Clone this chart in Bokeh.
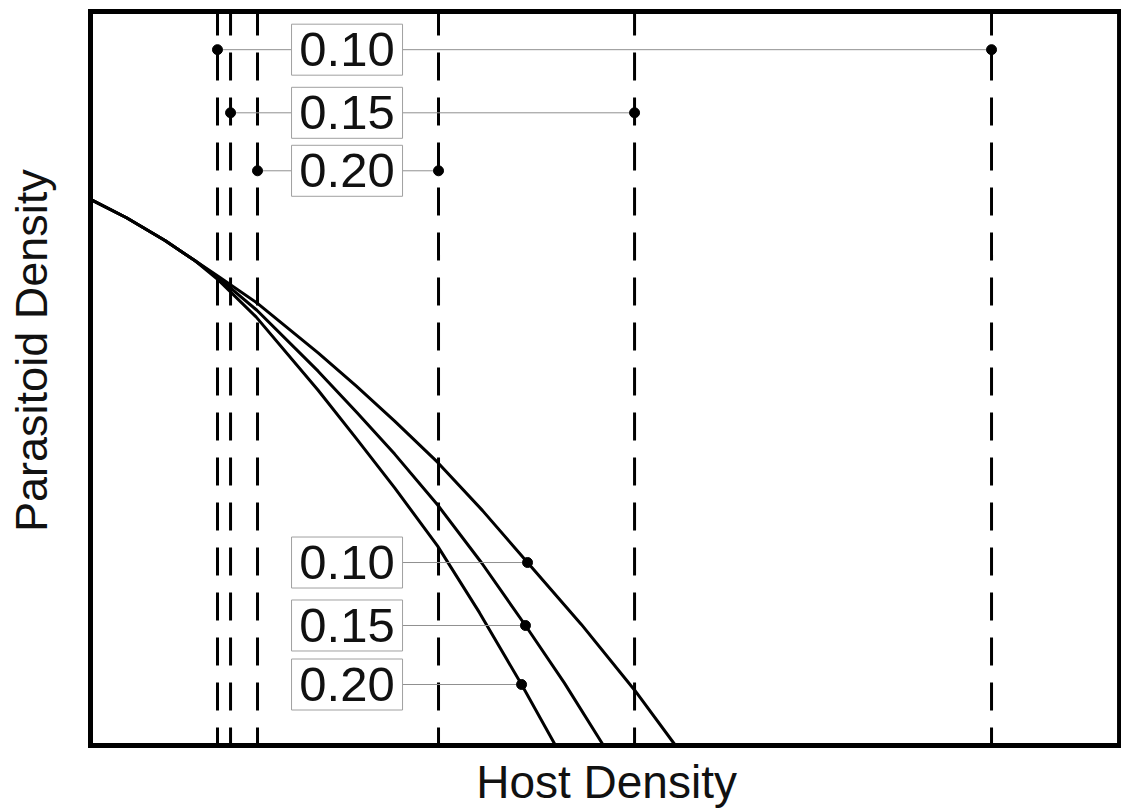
import math
from bokeh.plotting import figure
from bokeh.models import Range1d, Label, ColumnDataSource
from bokeh.core.properties import value
from bokeh.embed import file_html
from bokeh.resources import INLINE

# Parameter values shown in the boxed labels
params = ["0.10", "0.15", "0.20"]

# Equilibrium curves (host density vs parasitoid density), one per parameter value
curve_010_x = [0.0, 3.5, 7.24, 10.2, 12.44, 16.17, 22.12, 25.84, 29.56, 33.72, 38.1, 42.47, 47.7, 52.9, 56.85]
curve_010_y = [74.4, 71.9, 68.8, 66.0, 63.9, 60.3, 53.5, 48.95, 44.2, 38.6, 32.0, 24.93, 16.5, 7.5, 0.0]

curve_015_x = [0.0, 3.5, 7.24, 10.2, 12.44, 16.17, 22.12, 25.84, 29.56, 33.72, 38.0, 42.27, 46.06, 49.85]
curve_015_y = [74.4, 71.9, 68.8, 66.0, 63.7, 59.3, 51.0, 45.45, 39.7, 32.8, 24.9, 16.35, 8.5, 0.0]

curve_020_x = [0.0, 3.5, 7.24, 10.2, 12.44, 16.09, 22.12, 25.84, 29.56, 33.72, 37.8, 41.89, 45.19]
curve_020_y = [74.4, 71.9, 68.8, 66.0, 63.4, 58.4, 48.4, 41.8, 35.1, 27.2, 18.1, 8.31, 0.0]

# Marked points on each curve (bottom labels)
curve_mark_x = [42.47, 42.27, 41.89]
curve_mark_y = [24.93, 16.35, 8.31]

# Threshold host densities (dashed verticals), lower and upper bound per parameter
lower_x = [12.34, 13.61, 16.23]
upper_x = [87.56, 52.87, 33.82]
# Height at which each threshold pair is joined
pair_y = [94.8, 86.2, 78.3]

X_MAX, Y_MAX = 100.0, 100.0
FONT = "Liberation Sans"
INK = "#111111"

# The canvas is one frame; the axes box is drawn explicitly so the axis
# titles can sit in the margin around it.
p = figure(width=1121, height=812, output_backend="svg", toolbar_location=None,
           x_range=Range1d(-8.746, 100.19), y_range=Range1d(-9.128, 101.5),
           min_border=0)
p.axis.visible = False
p.grid.visible = False
p.outline_line_color = None
p.background_fill_color = "white"
p.border_fill_color = "white"

# dashed vertical threshold lines
vx = lower_x + upper_x
p.segment(x0=vx, y0=[Y_MAX] * len(vx), x1=vx, y1=[0] * len(vx),
          line_color="black", line_width=3, line_dash="28 17",
          line_dash_offset=4)

# curves
for cx, cy in [(curve_010_x, curve_010_y), (curve_015_x, curve_015_y),
               (curve_020_x, curve_020_y)]:
    p.line(cx, cy, line_color="black", line_width=3, line_join="round")

BOX_X = 24.93  # centre of the label boxes in host-density units

# top row: connectors between threshold pairs
p.segment(x0=lower_x, y0=pair_y, x1=upper_x, y1=pair_y,
          line_color="#909090", line_width=1)
# bottom row: connectors from boxes to curve points
p.segment(x0=[BOX_X] * 3, y0=curve_mark_y, x1=curve_mark_x, y1=curve_mark_y,
          line_color="#909090", line_width=1)

p.scatter(vx, pair_y + pair_y, size=10, color="black")
p.scatter(curve_mark_x, curve_mark_y, size=10, color="black")

box_src = ColumnDataSource(dict(
    x=[BOX_X] * 6,
    y=pair_y + curve_mark_y,
    t=params + params,
))
p.rect(x="x", y="y", width=111, height=51, width_units="screen",
       height_units="screen", source=box_src, fill_color="white",
       line_color="#a0a0a0", line_width=1)
p.text(x="x", y="y", text="t", source=box_src, text_font=value(FONT),
       text_font_size="49px", text_align="center", text_baseline="middle",
       text_color=INK)

# axes box
p.quad(left=[0], right=[X_MAX], bottom=[0], top=[Y_MAX], fill_color=None,
       line_color="black", line_width=5, line_join="miter")

p.add_layout(Label(x=50.15, y=-4.95, text="Host Density", text_font=FONT,
                   text_font_size="46px", text_align="center",
                   text_baseline="alphabetic", text_color=INK))
p.add_layout(Label(x=-5.74, y=53.8, text="Parasitoid Density", text_font=FONT,
                   text_font_size="45px", text_align="center",
                   text_baseline="alphabetic", angle=math.pi / 2,
                   text_color=INK))

open("out.html", "w").write(file_html(p, INLINE))
